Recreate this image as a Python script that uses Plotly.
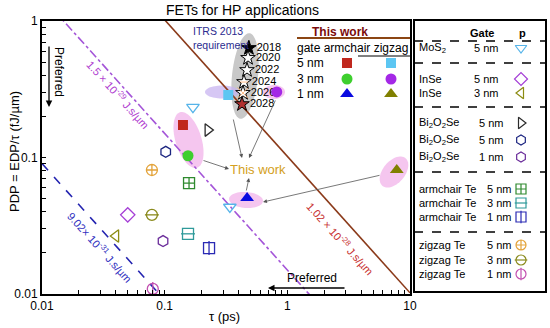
import numpy as np
import plotly.graph_objects as go

# ---------------- data (tau in ps, PDP in fJ/um) ----------------
tw_gates = ["5 nm", "3 nm", "1 nm"]
tw_armchair_tau = [0.141, 0.155, 0.47]
tw_armchair_pdp = [0.173, 0.103, 0.0505]
tw_zigzag_tau = [0.33, 0.82, 7.8]
tw_zigzag_pdp = [0.287, 0.302, 0.081]

itrs_years = ["2018", "2020", "2022", "2024", "2026", "2028"]
itrs_tau = [0.486, 0.478, 0.469, 0.443, 0.435, 0.427]
itrs_pdp = [0.634, 0.536, 0.437, 0.357, 0.297, 0.246]

ref_labels = ["MoS<sub>2</sub>", "InSe", "InSe",
              "Bi<sub>2</sub>O<sub>2</sub>Se", "Bi<sub>2</sub>O<sub>2</sub>Se", "Bi<sub>2</sub>O<sub>2</sub>Se",
              "armchair Te", "armchair Te", "armchair Te",
              "zigzag Te", "zigzag Te", "zigzag Te"]
ref_gates = ["5 nm", "5 nm", "3 nm", "5 nm", "5 nm", "1 nm",
             "5 nm", "3 nm", "1 nm", "5 nm", "3 nm", "1 nm"]
ref_tau = [[0.34, 0.17], [0.050], [0.040], [0.225], [0.102], [0.097],
           [0.158], [0.155], [0.23], [0.0787], [0.0787], [0.080]]
ref_pdp = [[0.0434, 0.234], [0.038], [0.0266], [0.159], [0.110], [0.0244],
           [0.065], [0.0276], [0.0217], [0.081], [0.038], [0.0109]]

edp_values = [1.02e-28, 1.5e-29, 9.02e-31]  # J.s/um
edp_labels = ["1.02 × 10<sup>-28</sup> J.s/µm", "1.5 × 10<sup>-29</sup> J.s/µm",
              "9.02× 10<sup>-31</sup> J.s/µm"]
tau_span = [0.01, 10]

# ---------------- styles ----------------
FONT = "Liberation Sans, Arial, sans-serif"
ref_styles = [("triangle-down-open", None, "#56b4e9"),
              ("diamond-open", None, "#a53fd6"),
              ("triangle-left-open", None, "#8c8c12"),
              ("triangle-right-open", None, "#2b2b2b"),
              ("hexagon-open", None, "#1c2580"),
              ("hexagon-open", None, "#6a2c9a"),
              ("square-cross-open", None, "#2f8a2f"),
              ("square-open", "line-ew-open", "#2f9a9a"),
              ("square-open", "line-ns-open", "#2a2ab4"),
              ("circle-cross-open", None, "#e3a33a"),
              ("circle-open", "line-ew-open", "#8a8a1c"),
              ("circle-open", "line-ns-open", "#c24fb0")]
tw_arm_style = [("square", "#c0281e", 10), ("circle", "#3ecf2e", 11), ("triangle-up", "#0a0ae0", 12)]
tw_zz_style = [("square", "#5cc6f2", 10), ("circle", "#a428e6", 11), ("triangle-up", "#808000", 12)]
line_styles = [("#8b3a1a", "solid"), ("#a455d8", "dashdot"), ("#2424b0", "dash")]

# ---------------- pixel helpers ----------------
W, H = 550, 328
ML, MR, MT, MB = 42, 2, 18, 30
PW, PH = W - ML - MR, H - MT - MB
def xp(px): return (px - ML) / PW
def yp(py): return (H - MB - py) / PH

fig = go.Figure()

# reference EDP lines
for edp, (col, dash) in zip(edp_values, line_styles):
    t = np.array(tau_span)
    fig.add_trace(go.Scatter(x=t, y=edp / t * 1e27, mode="lines",
                             line=dict(color=col, width=1.6, dash=dash),
                             hoverinfo="skip", showlegend=False))

# ITRS stars
star_fill = ["black", "white", "white", "white", "white", "#b03030"]
fig.add_trace(go.Scatter(x=itrs_tau, y=itrs_pdp, mode="markers+text",
                         text=itrs_years, textposition="middle right",
                         textfont=dict(size=11, color="black", family=FONT),
                         marker=dict(symbol="star", size=11, color=star_fill,
                                     line=dict(color="black", width=1)),
                         showlegend=False, hoverinfo="skip"))
fig.add_trace(go.Scatter(x=[itrs_tau[3], itrs_tau[4]], y=[itrs_pdp[3], itrs_pdp[4]], mode="markers",
                         marker=dict(symbol=["line-ew-open", "x-thin-open"], size=[6, 11],
                                     line=dict(color="black", width=1)),
                         showlegend=False, hoverinfo="skip"))

# reference devices
for taus, pdps, (sym, over, col) in zip(ref_tau, ref_pdp, ref_styles):
    fig.add_trace(go.Scatter(x=taus, y=pdps, mode="markers",
                             marker=dict(symbol=sym, size=11, color=col, line=dict(color=col, width=1.3)),
                             showlegend=False, hoverinfo="skip"))
    if over:
        fig.add_trace(go.Scatter(x=taus, y=pdps, mode="markers",
                                 marker=dict(symbol=over, size=10, color=col, line=dict(color=col, width=1.3)),
                                 showlegend=False, hoverinfo="skip"))

# this work
for i in range(3):
    s, c, sz = tw_arm_style[i]
    fig.add_trace(go.Scatter(x=[tw_armchair_tau[i]], y=[tw_armchair_pdp[i]], mode="markers",
                             marker=dict(symbol=s, size=sz, color=c), showlegend=False, hoverinfo="skip"))
    s, c, sz = tw_zz_style[i]
    fig.add_trace(go.Scatter(x=[tw_zigzag_tau[i]], y=[tw_zigzag_pdp[i]], mode="markers",
                             marker=dict(symbol=s, size=sz, color=c), showlegend=False, hoverinfo="skip"))

# ---------------- legend inside plot (pixel overlay axes) ----------------
leg_rows_y = [63, 79, 94]
for i in range(3):
    s, c, sz = tw_arm_style[i]
    fig.add_trace(go.Scatter(x=[347], y=[leg_rows_y[i]], xaxis="x2", yaxis="y2", mode="markers",
                             marker=dict(symbol=s, size=sz, color=c), showlegend=False, hoverinfo="skip"))
    s, c, sz = tw_zz_style[i]
    fig.add_trace(go.Scatter(x=[391], y=[leg_rows_y[i]], xaxis="x2", yaxis="y2", mode="markers",
                             marker=dict(symbol=s, size=sz, color=c), showlegend=False, hoverinfo="skip"))

# right panel markers
panel_y = [48, 79, 93, 123, 140, 157, 189, 203, 217, 245, 260, 274]
panel_gate_x = [472, 472, 472, 477, 477, 477, 485, 485, 485, 485, 485, 485]
for yy, (sym, over, col) in zip(panel_y, ref_styles):
    fig.add_trace(go.Scatter(x=[521], y=[yy], xaxis="x2", yaxis="y2", mode="markers",
                             marker=dict(symbol=sym, size=10, color=col, line=dict(color=col, width=1.2)),
                             showlegend=False, hoverinfo="skip"))
    if over:
        fig.add_trace(go.Scatter(x=[521], y=[yy], xaxis="x2", yaxis="y2", mode="markers",
                                 marker=dict(symbol=over, size=9, color=col, line=dict(color=col, width=1.2)),
                                 showlegend=False, hoverinfo="skip"))

# ---------------- shapes ----------------
shapes = []
def ellipse(cx, cy, rx, ry, ang, color):
    a = np.radians(ang)
    t = np.linspace(0, 2 * np.pi, 60)
    xs = cx + rx * np.cos(t) * np.cos(a) - ry * np.sin(t) * np.sin(a)
    ys = cy + rx * np.cos(t) * np.sin(a) + ry * np.sin(t) * np.cos(a)
    path = "M " + " L ".join(f"{xp(x):.5f},{yp(y):.5f}" for x, y in zip(xs, ys)) + " Z"
    shapes.append(dict(type="path", path=path, xref="paper", yref="paper", layer="below",
                       fillcolor=color, line=dict(width=0)))

PINK = "rgba(238,160,228,0.6)"
ellipse(245, 76, 43, 13, 96, "#c8c8c8")
ellipse(222, 92, 17, 6.5, 0, "rgba(200,180,240,0.75)")
ellipse(274, 92, 11, 7, 0, PINK)
ellipse(188.5, 140, 29, 13, 73, PINK)
ellipse(246, 200, 17, 8, 4, PINK)
ellipse(394, 172, 18, 11, -50, PINK)

def hline(x0, x1, y, color="black", width=1.5, dash="solid"):
    shapes.append(dict(type="line", xref="paper", yref="paper", x0=xp(x0), x1=xp(x1), y0=yp(y), y1=yp(y),
                       line=dict(color=color, width=width, dash=dash)))

# inner legend lines
hline(297, 410, 38, color="#8b4513", width=2)
hline(358, 410, 56, width=1)
# right panel box and separators
shapes.append(dict(type="rect", xref="paper", yref="paper", x0=xp(414), x1=xp(546), y0=yp(292), y1=yp(20),
                   line=dict(color="black", width=2)))
for yy in [41, 63, 107, 172, 232]:
    hline(414, 546, yy, width=1.5, dash="dash")

# ---------------- annotations ----------------
ann = []
def text(px, py, s, size=12, color="black", xanchor="center", angle=0, bold=False, align="center"):
    ann.append(dict(x=xp(px), y=yp(py), xref="paper", yref="paper", text=("<b>%s</b>" % s) if bold else s,
                    showarrow=False, xanchor=xanchor, yanchor="middle", textangle=angle, align=align,
                    font=dict(size=size, color=color, family=FONT)))

def arrow(hx, hy, tx, ty, color="#555", width=0.8, head=2, size=1):
    ann.append(dict(x=xp(hx), y=yp(hy), xref="paper", yref="paper", text="", showarrow=True,
                    ax=tx - hx, ay=ty - hy, arrowhead=head, arrowsize=size, arrowwidth=width,
                    arrowcolor=color))

text(242, 10, "FETs for HP applications", size=14)
text(14, 152, "PDP = EDP/τ (fJ/µm)", size=13, angle=-90)
text(224, 316, "τ (ps)", size=13)

# EDP line labels
text(340, 238, edp_labels[0], size=11, color="#c83232", angle=48)
text(118, 94, edp_labels[1], size=11, color="#b040d0", angle=48)
text(100, 247, edp_labels[2], size=11, color="#3030c0", angle=48)

# preferred arrows
text(59, 72, "Preferred", size=12, angle=90)
arrow(49, 107, 49, 45, color="black", width=1.3, head=2)
text(312, 278, "Preferred", size=12)
arrow(268, 288, 346, 288, color="black", width=1.3, head=2)

# ITRS label
ann.append(dict(x=xp(191), y=yp(38), xref="paper", yref="paper", text="ITRS 2013<br>requirement",
                showarrow=False, xanchor="left", yanchor="middle", align="left",
                font=dict(size=10.5, color="#2b2b8f", family=FONT)))

# "This work" pointer
text(258, 169, "This work", size=13, color="#d4a020")
arrow(242, 158, 233, 118)
arrow(249, 158, 276, 99)
arrow(229, 169, 202, 160)
arrow(249, 178, 246, 192)
arrow(263, 202, 381, 175)

# inner legend text
text(340, 32, "This work", size=12, color="#7a0a0a", bold=True)
text(295, 48, "gate armchair zigzag", size=12, xanchor="left")
for g, yy in zip(tw_gates, leg_rows_y):
    text(295, yy, g, size=12, xanchor="left")

# right panel text
text(482, 33, "Gate", size=11, bold=True)
text(522, 33, "p", size=11, bold=True)
for lab, g, yy, gx in zip(ref_labels, ref_gates, panel_y, panel_gate_x):
    text(417, yy, lab, size=11, xanchor="left")
    text(gx, yy, g, size=11, xanchor="left")

# ---------------- axes ----------------
xd = [d for e in (-2, -1, 0) for d in range(1, 10)] + [1]
xt = [d * 10.0 ** e for e in (-2, -1, 0) for d in range(1, 10)] + [10]
xtt = [("%g" % v) if d == 1 else "" for v, d in zip(xt, xd)]
yd = [d for e in (-2, -1) for d in range(1, 10)] + [1]
yt = [d * 10.0 ** e for e in (-2, -1) for d in range(1, 10)] + [1]
ytt = [("%g" % v) if d == 1 else "" for v, d in zip(yt, yd)]

main_x_dom = [0, (410 - ML) / PW]
main_y_dom = [yp(294), yp(21)]

fig.update_layout(
    width=W, height=H, margin=dict(l=ML, r=MR, t=MT, b=MB, autoexpand=False),
    paper_bgcolor="white", plot_bgcolor="rgba(0,0,0,0)",
    font=dict(family=FONT, size=12, color="black"),
    xaxis=dict(type="log", range=[-2, 1], domain=main_x_dom, anchor="y", automargin=False,
               tickvals=xt, ticktext=xtt, ticks="inside", ticklen=4, tickwidth=1.2, tickcolor="black",
               showline=True, linecolor="black", linewidth=2, mirror=True, showgrid=False, zeroline=False,
               tickfont=dict(size=12)),
    yaxis=dict(type="log", range=[-2, 0], domain=main_y_dom, anchor="x", automargin=False,
               tickvals=yt, ticktext=ytt, ticks="inside", ticklen=4, tickwidth=1.2, tickcolor="black",
               showline=True, linecolor="black", linewidth=2, mirror=True, showgrid=False, zeroline=False,
               tickfont=dict(size=12)),
    xaxis2=dict(domain=[0, 1], range=[ML, W - MR], anchor="y2", visible=False, fixedrange=True, automargin=False),
    yaxis2=dict(domain=[0, 1], range=[H - MB, MT], anchor="x2", visible=False, fixedrange=True, automargin=False),
    shapes=shapes, annotations=ann, showlegend=False,
)

fig.write_html("out.html", config={"displayModeBar": False},
               post_script="document.body.style.margin='0';document.body.style.overflow='hidden';")
